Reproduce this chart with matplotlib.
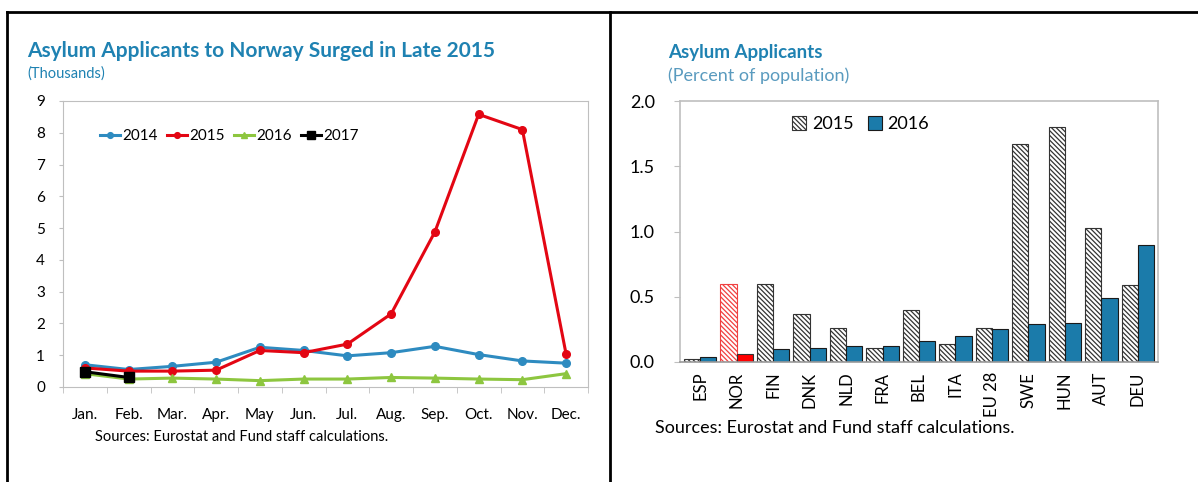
import numpy as np
import matplotlib.pyplot as plt
from matplotlib.lines import Line2D
from matplotlib.patches import Patch

plt.rcParams['font.family'] = ['Lato', 'DejaVu Sans']
plt.rcParams['hatch.linewidth'] = 0.9

# left panel data (thousands)
months = ['Jan.', 'Feb.', 'Mar.', 'Apr.', 'May', 'Jun.', 'Jul.', 'Aug.', 'Sep.', 'Oct.', 'Nov.', 'Dec.']
y2014 = [0.70, 0.55, 0.65, 0.78, 1.25, 1.15, 0.98, 1.08, 1.28, 1.02, 0.82, 0.75]
y2015 = [0.60, 0.50, 0.50, 0.53, 1.15, 1.08, 1.35, 2.30, 4.88, 8.58, 8.10, 1.03]
y2016 = [0.42, 0.25, 0.28, 0.25, 0.20, 0.25, 0.25, 0.30, 0.28, 0.25, 0.23, 0.42]
y2017 = [0.48, 0.30]

# right panel data (percent of population)
countries = ['ESP', 'NOR', 'FIN', 'DNK', 'NLD', 'FRA', 'BEL', 'ITA', 'EU 28', 'SWE', 'HUN', 'AUT', 'DEU']
p2015 = [0.02, 0.60, 0.60, 0.37, 0.26, 0.11, 0.40, 0.14, 0.26, 1.67, 1.80, 1.03, 0.59]
p2016 = [0.035, 0.065, 0.10, 0.11, 0.125, 0.125, 0.16, 0.20, 0.25, 0.29, 0.30, 0.49, 0.90]

blue_title = '#1F82B2'
c14 = '#2E8BC0'
c15 = '#E30613'
c16 = '#8DC63F'
bar_blue = '#1B7BAA'
spine_c = '#BFBFBF'
hatch = '\\\\\\\\\\\\\\'

W, H = 1198, 482
fig = plt.figure(figsize=(W / 100, H / 100), dpi=100)

def fx(px):
    return px / W

def fy(py):
    return 1 - py / H

# outer frame lines
for l in [Line2D([fx(7), 1], [fy(12), fy(12)]),
          Line2D([fx(7), fx(7)], [0, fy(12)]),
          Line2D([fx(610), fx(610)], [0, fy(12)])]:
    l.set_color('black')
    l.set_linewidth(2)
    fig.add_artist(l)

# ---- left chart
ax1 = fig.add_axes([fx(63), fy(387), fx(588) - fx(63), fy(101) - fy(387)])
x = np.arange(len(months))
ax1.plot(x, y2014, color=c14, lw=2.2, marker='o', ms=5.5, label='2014')
ax1.plot(x, y2015, color=c15, lw=2.2, marker='o', ms=5.5, label='2015')
ax1.plot(x, y2016, color=c16, lw=2.2, marker='^', ms=5.5, label='2016')
ax1.plot(x[:len(y2017)], y2017, color='black', lw=2.2, marker='s', ms=7.5, label='2017')
ax1.set_xlim(-0.5, len(months) - 0.5)
ax1.set_ylim(0, 9)
ax1.set_yticks(range(0, 10))
ax1.set_xticks(x)
ax1.set_xticklabels(months)
ax1.set_xticks(np.arange(-0.5, len(months)), minor=True)
ax1.tick_params(axis='x', which='major', length=0, pad=15, labelsize=11)
ax1.tick_params(axis='x', which='minor', length=4, color=spine_c)
ax1.tick_params(axis='y', length=3, color=spine_c, pad=10, labelsize=11)
for s in ax1.spines.values():
    s.set_color(spine_c)
ax1.legend(loc='center left', bbox_to_anchor=(0.045, 0.878), ncol=4, frameon=False,
           handlelength=1.3, handletextpad=0.15, columnspacing=0.6, fontsize=11, markerscale=0.75)

fig.text(fx(27), fy(51), 'Asylum Applicants to Norway Surged in Late 2015', color=blue_title,
         fontsize=15, fontweight='bold', va='center', ha='left')
fig.text(fx(27), fy(74), '(Thousands)', color=blue_title, fontsize=10.5, va='center', ha='left')
fig.text(fx(95), fy(437), 'Sources: Eurostat and Fund staff calculations.', fontsize=10.5,
         va='center', ha='left')

# ---- right chart
ax2 = fig.add_axes([fx(680), fy(362), fx(1158) - fx(680), fy(101) - fy(362)])
xc = np.arange(len(countries))
bw = 0.45
for i in range(len(countries)):
    if countries[i] == 'NOR':
        ax2.bar(xc[i] - bw / 2, p2015[i], bw, color='white', edgecolor='#F04040', hatch=hatch, lw=0.8)
        ax2.bar(xc[i] + bw / 2, p2016[i], bw, color='#FF0000', edgecolor='#333333', lw=0.8)
    else:
        ax2.bar(xc[i] - bw / 2, p2015[i], bw, color='white', edgecolor='#333333', hatch=hatch, lw=0.8)
        ax2.bar(xc[i] + bw / 2, p2016[i], bw, color=bar_blue, edgecolor='#1a1a1a', lw=0.8)
ax2.set_xlim(-0.55, len(countries) - 0.45)
ax2.set_ylim(0, 2.0)
ax2.set_yticks([0, 0.5, 1.0, 1.5, 2.0])
ax2.set_yticklabels(['0.0', '0.5', '1.0', '1.5', '2.0'])
ax2.set_xticks(xc)
ax2.set_xticklabels(countries, rotation=90)
ax2.tick_params(axis='x', length=0, pad=7, labelsize=12)
ax2.tick_params(axis='y', length=4, color=spine_c, pad=14, labelsize=13)
for s in ax2.spines.values():
    s.set_color(spine_c)
    s.set_linewidth(1.2)
ax2.spines['bottom'].set_color('#999999')
handles = [Patch(facecolor='white', edgecolor='#333333', hatch=hatch, lw=0.8),
           Patch(facecolor=bar_blue, edgecolor='#1a1a1a', lw=0.8)]
ax2.legend(handles, ['2015', '2016'], loc='center left', bbox_to_anchor=(0.2, 0.912), ncol=2,
           frameon=False, handlelength=0.8, handleheight=0.8, handletextpad=0.3,
           columnspacing=0.8, fontsize=13)

fig.text(fx(668), fy(52), 'Asylum Applicants', color=blue_title, fontsize=13.5,
         fontweight='bold', va='center', ha='left')
fig.text(fx(668), fy(76), '(Percent of population)', color='#5A9BBF', fontsize=13,
         va='center', ha='left')
fig.text(fx(655), fy(428), 'Sources: Eurostat and Fund staff calculations.', fontsize=13,
         va='center', ha='left')

fig.savefig('out.png', dpi=100)
